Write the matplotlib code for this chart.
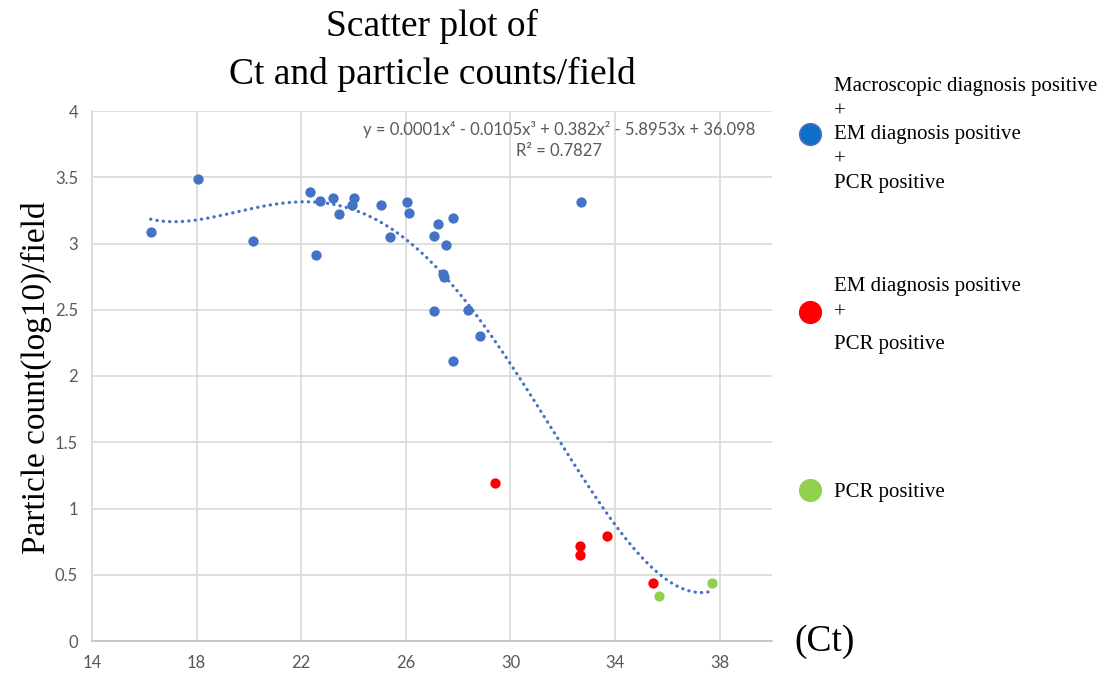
import matplotlib

matplotlib.use("Agg")
import matplotlib.pyplot as plt
import numpy as np

# Ct vs log10 particle count
blue_ct = [16.24, 18.06, 20.16, 22.34, 22.71, 22.57, 23.22, 23.44, 23.95, 24.02,
           25.04, 25.40, 26.06, 26.13, 27.08, 27.22, 27.81, 27.52, 27.42, 27.47,
           32.68, 27.08, 28.38, 28.83, 27.81]
blue_val = [3.09, 3.49, 3.02, 3.39, 3.32, 2.91, 3.34, 3.22, 3.29, 3.34,
            3.29, 3.05, 3.31, 3.23, 3.06, 3.15, 3.19, 2.99, 2.77, 2.75,
            3.31, 2.49, 2.50, 2.30, 2.11]
red_ct = [29.41, 32.67, 32.67, 33.70, 35.46]
red_val = [1.19, 0.72, 0.65, 0.79, 0.44]
green_ct = [35.68, 37.70]
green_val = [0.34, 0.44]

x_ticks = [14, 18, 22, 26, 30, 34, 38]
y_ticks = [0, 0.5, 1, 1.5, 2, 2.5, 3, 3.5, 4]
y_tick_labels = ["0", "0.5", "1", "1.5", "2", "2.5", "3", "3.5", "4"]

BLUE = "#4472C4"
RED = "#FF0000"
GREEN = "#92D050"
SERIF = ["Liberation Serif", "DejaVu Serif"]
SANS = ["Lato", "DejaVu Sans"]

W, H = 1103, 673
fig = plt.figure(figsize=(W / 100, H / 100), dpi=100)
ax = fig.add_axes([92 / W, 32 / H, 680 / W, 530 / H])

ax.scatter(blue_ct, blue_val, s=55, color=BLUE, zorder=3, linewidths=0)
ax.scatter(red_ct, red_val, s=55, color=RED, zorder=3, linewidths=0)
ax.scatter(green_ct, green_val, s=55, color=GREEN, zorder=3, linewidths=0)

# 4th order polynomial trendline over all points (Excel style dotted)
all_x = np.array(blue_ct + red_ct + green_ct)
all_y = np.array(blue_val + red_val + green_val)
coef = np.polyfit(all_x, all_y, 4)
xs = np.linspace(all_x.min(), all_x.max(), 400)
ax.plot(xs, np.polyval(coef, xs), color=BLUE, linestyle=(0, (0.1, 1.9)),
        linewidth=2.3, dash_capstyle="round", zorder=2)

ax.set_xlim(14, 40)
ax.set_ylim(0, 4)
ax.set_xticks(x_ticks)
ax.set_yticks(y_ticks)
ax.set_yticklabels(y_tick_labels)
ax.grid(True, color="#d9d9d9", linewidth=1.2)
ax.set_axisbelow(True)
for s in ["top", "right"]:
    ax.spines[s].set_visible(False)
ax.spines["left"].set_color("#d9d9d9")
ax.spines["bottom"].set_color("#bfbfbf")
ax.spines["left"].set_linewidth(1.2)
ax.spines["bottom"].set_linewidth(1.2)
ax.tick_params(length=0, labelsize=12, labelcolor="#595959", pad=10)
for lab in ax.get_xticklabels() + ax.get_yticklabels():
    lab.set_family(SANS)

ax.text(0.687, 0.981, "y = 0.0001x⁴ - 0.0105x³ + 0.382x² - 5.8953x + 36.098\nR² = 0.7827",
        transform=ax.transAxes, ha="center", va="top", fontsize=12,
        color="#595959", linespacing=1.35, family=SANS)

fig.text(432 / W, 1 - 36 / H, "Scatter plot of", ha="center", va="baseline",
         fontsize=27, family=SERIF)
fig.text(432 / W, 1 - 84 / H, "Ct and particle counts/field", ha="center",
         va="baseline", fontsize=27, family=SERIF)
fig.text(36 / W, 1 - 378 / H, "Particle count(log10)/field", rotation=90,
         ha="center", va="center", fontsize=24, family=SERIF)
fig.text(825 / W, 1 - 642 / H, "(Ct)", ha="center", va="center",
         fontsize=27, family=SERIF)

# legend drawn by hand to keep the multi-line layout
legend_items = [
    ("#0F6FC6", 134, [("Macroscopic diagnosis positive", 87), ("+", 112),
                      ("EM diagnosis positive", 135), ("+", 160), ("PCR positive", 184)]),
    (RED, 312, [("EM diagnosis positive", 287), ("+", 313), ("PCR positive", 345)]),
    (GREEN, 490, [("PCR positive", 492)]),
]
for color, my, lines in legend_items:
    edge = BLUE if color == "#0F6FC6" else color
    fig.add_artist(plt.Line2D([810 / W], [1 - my / H], marker="o", markersize=15.5,
                              markerfacecolor=color, markeredgecolor=edge,
                              markeredgewidth=1.2, linestyle="none",
                              transform=fig.transFigure))
    for txt, ty in lines:
        fig.text(834 / W, 1 - ty / H, txt, ha="left", va="center",
                 fontsize=15, family=SERIF)

fig.savefig("out.png", dpi=100)
